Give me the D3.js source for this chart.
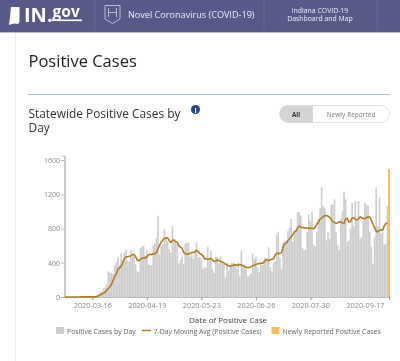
<!DOCTYPE html>
<html><head><meta charset="utf-8">
<script src="https://cdn.jsdelivr.net/npm/d3@7"></script>
<style>
html,body{margin:0;padding:0;background:#fff;overflow:hidden}
svg{display:block;filter:blur(0.45px)}
text{font-family:"Open Sans",sans-serif}
</style></head><body><svg id="c" width="400" height="361"></svg>
<script>
const startDate = "2020-02-28";
const lastDate = "2020-09-17";
const tickLabels = ["2020-03-16","2020-04-19","2020-05-23","2020-06-26","2020-07-30","2020-09-17"];
const yTicks = [0,400,800,1200,1600];
const newlyReported = 1497;
const legendLabels = ["Positive Cases by Day","7-Day Moving Avg (Positive Cases)","Newly Reported Positive Cases"];
const casesByDay = [
0,0,0,0,0,0,1,0,1,1,
2,1,3,2,4,3,5,8,10,12,
15,35,65,60,100,110,150,300,285,280,
270,370,400,470,370,510,430,520,550,420,
415,550,470,480,380,300,290,570,590,600,
480,550,380,375,370,600,620,690,950,500,
590,620,790,700,650,560,520,830,670,650,
620,390,430,470,380,620,640,630,470,500,
450,530,640,460,470,450,330,350,340,590,
430,540,330,280,470,470,390,480,400,390,
230,400,310,350,400,400,390,330,400,240,
540,370,380,330,240,250,280,510,440,470,
350,290,400,370,420,460,430,580,350,300,
400,420,720,760,460,330,640,660,650,770,
810,910,640,760,780,990,990,950,570,550,
550,760,960,890,990,610,590,760,910,1040,
1280,1060,1040,660,760,680,1080,1080,1140,760,
610,550,910,1000,1230,1140,640,660,800,1100,
830,1120,890,1120,680,700,890,1100,1080,1060,
760,590,390,700,1280,820,1160,740,760,610,
620,1060];
const movingAvg = [
0,0,0,0,0,0,0,0,0,0,
1,1,1,1,2,2,2,3,3,3,
8,15,25,35,45,55,75,100,120,150,
195,240,270,325,340,360,400,450,470,470,
475,480,495,495,475,430,425,435,455,455,
460,465,490,500,495,505,505,520,565,605,
640,665,685,690,690,660,635,660,665,645,
640,600,580,570,520,505,500,500,510,520,
520,525,545,530,510,500,480,445,445,440,
445,450,430,415,420,435,425,415,410,400,
385,375,365,360,365,370,375,370,375,380,
375,365,355,345,345,345,355,365,370,380,
385,390,395,395,405,435,435,425,435,440,
445,490,510,510,510,515,590,620,630,660,
680,700,730,760,770,810,830,815,810,810,
805,805,800,805,800,800,810,850,875,910,
920,940,950,950,945,930,905,880,870,860,
865,880,875,865,860,915,920,875,880,925,
925,905,900,915,935,925,915,915,925,935,
935,895,850,810,770,760,775,785,780,830,
855,865];

const parse = d3.utcParse("%Y-%m-%d");
const t0 = parse(startDate), t1 = parse(lastDate);
const dayAt = i => d3.utcDay.offset(t0, i);
const x = d3.scaleUtc().domain([t0,t1]).range([65,389]);
const y = d3.scaleLinear().domain([0,1600]).range([297,160]);
const svg = d3.select("#c");
const hdr = "#575a89";

// page furniture
svg.append("rect").attr("x",0).attr("y",31).attr("width",400).attr("height",2).attr("fill","#bdbdc9");
svg.append("rect").attr("x",0).attr("y",0).attr("width",400).attr("height",32).attr("fill",hdr);
[95,264,377].forEach(v=>svg.append("line").attr("x1",v).attr("x2",v).attr("y1",0).attr("y2",31).attr("stroke","#65689a"));
svg.append("line").attr("x1",15.5).attr("x2",15.5).attr("y1",33).attr("y2",361).attr("stroke","#ececec");
svg.append("path").attr("d","M11 7H19.5V22L18 24L14 23.5L9 25L10 17Z").attr("fill","#fff");
const logo = svg.append("text").attr("x",24).attr("y",22).attr("fill","#fff").attr("font-weight",700);
logo.append("tspan").attr("font-size",20).text("IN.");
logo.append("tspan").attr("font-size",15.5).attr("dy",-5).text("gov");
svg.append("rect").attr("x",52).attr("y",19.5).attr("width",30).attr("height",1.6).attr("fill","#fff");
svg.append("path").attr("d","M105 5.5H120V19L112.5 23.5L105 19Z").attr("fill","none").attr("stroke","#b9bbd2");
svg.append("path").attr("d","M108.5 8V17M116.5 8V17M108.5 12.5H116.5").attr("fill","none").attr("stroke","#b9bbd2");
svg.append("text").attr("x",128).attr("y",17.5).attr("font-size",9.1).attr("fill","#eeeef5").text("Novel Coronavirus (COVID-19)");
svg.append("text").attr("x",320).attr("y",13).attr("font-size",6.9).attr("text-anchor","middle").attr("fill","#eeeef5").text("Indiana COVID-19");
svg.append("text").attr("x",320).attr("y",21).attr("font-size",6.9).attr("text-anchor","middle").attr("fill","#eeeef5").text("Dashboard and Map");

svg.append("text").attr("x",28.5).attr("y",67).attr("font-size",16.5).attr("fill","#222").text("Positive Cases");
svg.append("line").attr("x1",28).attr("x2",390).attr("y1",94.5).attr("y2",94.5).attr("stroke","#aebfdd");
svg.append("text").attr("x",28.5).attr("y",117.5).attr("font-size",11.9).attr("fill","#333").text("Statewide Positive Cases by");
svg.append("text").attr("x",28.5).attr("y",132).attr("font-size",11.9).attr("fill","#333").text("Day");
svg.append("circle").attr("cx",195.5).attr("cy",109.5).attr("r",4.5).attr("fill","#1f4a8f");
svg.append("text").attr("x",195.5).attr("y",112.5).attr("font-size",7).attr("font-weight",700).attr("text-anchor","middle").attr("fill","#fff").text("i");
svg.append("rect").attr("x",279.5).attr("y",105.5).attr("width",110).attr("height",17).attr("rx",8.5).attr("fill","#fff").attr("stroke","#e3e3e3");
svg.append("path").attr("d","M313 105.5H288A8.5 8.5 0 0 0 288 122.5H313Z").attr("fill","#d4d4d4");
svg.append("text").attr("x",296).attr("y",117).attr("font-size",6.3).attr("font-weight",700).attr("text-anchor","middle").attr("fill","#333").text("All");
svg.append("text").attr("x",351).attr("y",117).attr("font-size",6.3).attr("font-weight",600).attr("text-anchor","middle").attr("fill","#999").text("Newly Reported");

// bars
const barW = 1.6;
svg.append("g").selectAll("rect").data(casesByDay).join("rect")
  .attr("x",(d,i)=>x(dayAt(i))-barW/2).attr("width",barW)
  .attr("y",d=>y(d)).attr("height",d=>y(0)-y(d)).attr("fill","#cdcdcd");
svg.append("rect").attr("x",x(t1)-1).attr("width",2)
  .attr("y",y(newlyReported)).attr("height",y(0)-y(newlyReported)).attr("fill","#fdbd5c");

// axes
const yAxis = d3.axisLeft(y).tickValues(yTicks).tickFormat(d3.format("d")).tickSize(4).tickPadding(1);
const gy = svg.append("g").attr("transform","translate(65,0)").call(yAxis);
gy.select(".domain").remove();
svg.append("line").attr("x1",65).attr("x2",65).attr("y1",156).attr("y2",297).attr("stroke","#bdbdbd").attr("stroke-width",1.6);
svg.append("line").attr("x1",62).attr("x2",65).attr("y1",156).attr("y2",156).attr("stroke","#bdbdbd");
gy.selectAll("line").attr("stroke","#bdbdbd");
gy.selectAll("text").attr("font-size",7).attr("fill","#8a8a8a").style("font-family",'"Open Sans",sans-serif');

const xAxis = d3.axisBottom(x).tickValues(tickLabels.map(parse)).tickFormat(d3.utcFormat("%Y-%m-%d")).tickSize(3).tickSizeOuter(0).tickPadding(3);
const gx = svg.append("g").attr("transform","translate(0,297)").call(xAxis);
gx.select(".domain").attr("stroke","#bdbdbd");
gx.selectAll("line").attr("stroke","#9a9a9a");
gx.selectAll("text").attr("font-size",7.3).attr("fill","#8a8a8a").style("font-family",'"Open Sans",sans-serif');
gx.selectAll(".tick:last-of-type text").attr("text-anchor","end").attr("dx",-5);

// moving average
const line = d3.line().x((d,i)=>x(dayAt(i))).y(d=>y(d));
svg.append("path").attr("d",line(movingAvg)).attr("fill","none").attr("stroke","#b27d1e").attr("stroke-width",1.6).attr("stroke-linejoin","round");

// titles and legend
svg.append("text").attr("x",228).attr("y",323).attr("font-size",8).attr("text-anchor","middle").attr("fill","#444").text("Date of Positive Case");
svg.append("rect").attr("x",56).attr("y",327).attr("width",8).attr("height",7).attr("fill","#cdcdcd");
svg.append("text").attr("x",67).attr("y",333.5).attr("font-size",6.9).attr("fill","#666").text(legendLabels[0]);
svg.append("line").attr("x1",142).attr("x2",151).attr("y1",330.5).attr("y2",330.5).attr("stroke","#b27d1e").attr("stroke-width",1.4);
svg.append("text").attr("x",153.5).attr("y",333.5).attr("font-size",6.9).attr("fill","#666").text(legendLabels[1]);
svg.append("rect").attr("x",271.5).attr("y",327).attr("width",8).attr("height",7).attr("fill","#fdbd5c");
svg.append("text").attr("x",282.5).attr("y",333.5).attr("font-size",6.9).attr("fill","#666").text(legendLabels[2]);
</script></body></html>
